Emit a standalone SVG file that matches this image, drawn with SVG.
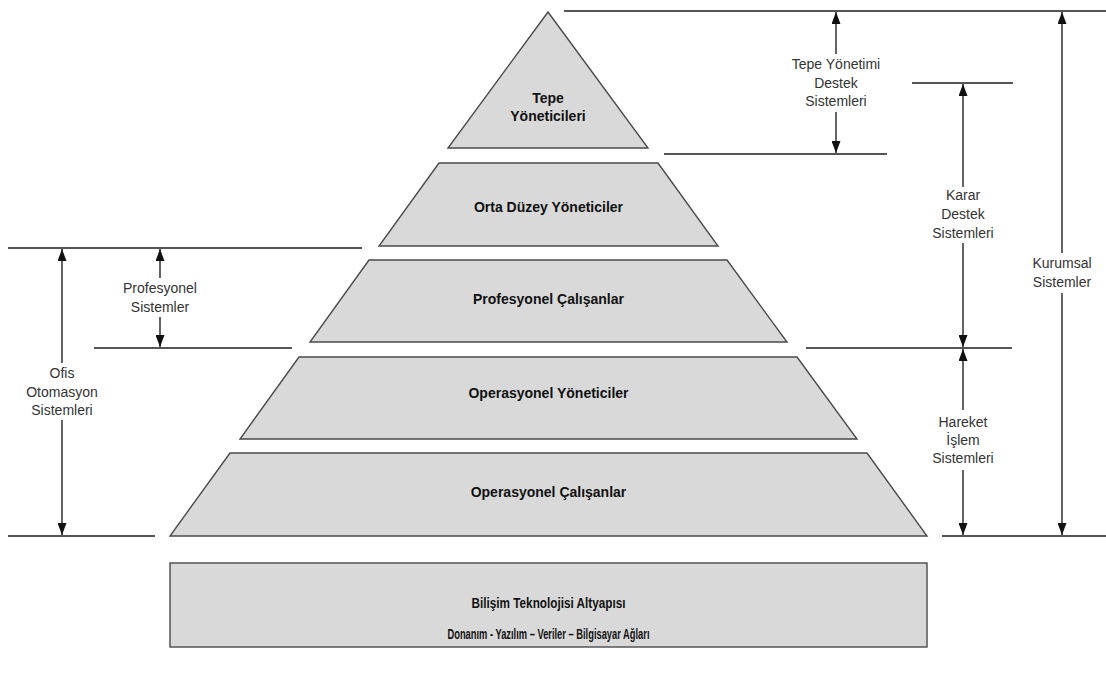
<svg xmlns="http://www.w3.org/2000/svg" width="1106" height="675" viewBox="0 0 1106 675">
<style>
.tier{fill:#d9d9d9;stroke:#4a4a4a;stroke-width:1.4;stroke-linejoin:miter}
.lbl{font-family:"Liberation Sans",Arial,sans-serif;font-weight:bold;font-size:14px;fill:#111;text-anchor:middle}
.side{font-family:"Liberation Sans",Arial,sans-serif;font-size:14px;fill:#333;text-anchor:middle}
.hline{stroke:#555;stroke-width:2;fill:none}
.arr{stroke:#111;stroke-width:1.3;fill:none;marker-end:url(#ah)}
</style>
<defs>
<marker id="ah" viewBox="0 0 12 9" refX="12" refY="4.5" markerWidth="13" markerHeight="9" markerUnits="userSpaceOnUse" orient="auto">
<path d="M0,0 L12,4.5 L0,9 z" fill="#111"/>
</marker>
</defs>
<rect width="1106" height="675" fill="#fff"/>
<g id="tepe">
<polygon class="tier" points="548,12 448,148 648,148"/>
<text class="lbl" x="548" y="103">Tepe</text>
<text class="lbl" x="548" y="121">Yöneticileri</text>
</g>
<g id="orta">
<polygon class="tier" points="439,163 658,163 718,246 379,246"/>
<text class="lbl" x="548.5" y="212">Orta Düzey Yöneticiler</text>
</g>
<g id="profesyonel">
<polygon class="tier" points="369,260 727,260 787,342 310,342"/>
<text class="lbl" x="548.5" y="304">Profesyonel Çalışanlar</text>
</g>
<g id="opyon">
<polygon class="tier" points="299,357 797,357 857,439 240,439"/>
<text class="lbl" x="548.5" y="398">Operasyonel Yöneticiler</text>
</g>
<g id="opcal">
<polygon class="tier" points="230,453 867,453 927,536 170,536"/>
<text class="lbl" x="548.5" y="497">Operasyonel Çalışanlar</text>
</g>
<g id="altyapi">
<rect class="tier" x="170" y="563" width="757" height="84"/>
<text class="lbl" x="548.5" y="608" font-size="13.5" textLength="154" lengthAdjust="spacingAndGlyphs">Bilişim Teknolojisi Altyapısı</text>
<text class="lbl" x="548.5" y="639" font-size="13" textLength="202" lengthAdjust="spacingAndGlyphs">Donanım - Yazılım – Veriler – Bilgisayar Ağları</text>
</g>
<g id="connectors">
<line class="hline" x1="564" y1="11" x2="1106" y2="11"/>
<line class="hline" x1="912" y1="83" x2="1013" y2="83"/>
<line class="hline" x1="664" y1="154" x2="887" y2="154"/>
<line class="hline" x1="8" y1="248" x2="362" y2="248"/>
<line class="hline" x1="94" y1="348" x2="292" y2="348"/>
<line class="hline" x1="806" y1="348" x2="1012" y2="348"/>
<line class="hline" x1="8" y1="536" x2="155" y2="536"/>
<line class="hline" x1="942" y1="536" x2="1106" y2="536"/>
<line class="arr" x1="836" y1="54" x2="836" y2="12"/>
<line class="arr" x1="836" y1="112" x2="836" y2="153"/>
<line class="arr" x1="963" y1="187" x2="963" y2="84"/>
<line class="arr" x1="963" y1="243" x2="963" y2="347"/>
<line class="arr" x1="963" y1="410" x2="963" y2="349"/>
<line class="arr" x1="963" y1="470" x2="963" y2="535"/>
<line class="arr" x1="1062" y1="253" x2="1062" y2="12"/>
<line class="arr" x1="1062" y1="293" x2="1062" y2="535"/>
<line class="arr" x1="62" y1="363" x2="62" y2="249"/>
<line class="arr" x1="62" y1="420" x2="62" y2="535"/>
<line class="arr" x1="160" y1="278" x2="160" y2="249"/>
<line class="arr" x1="160" y1="317" x2="160" y2="347"/>
</g>
<g id="labels">
<text class="side" x="836" y="69">Tepe Yönetimi</text>
<text class="side" x="836" y="88">Destek</text>
<text class="side" x="836" y="106">Sistemleri</text>
<text class="side" x="963" y="200">Karar</text>
<text class="side" x="963" y="219">Destek</text>
<text class="side" x="963" y="238">Sistemleri</text>
<text class="side" x="1062" y="268">Kurumsal</text>
<text class="side" x="1062" y="287">Sistemler</text>
<text class="side" x="963" y="427">Hareket</text>
<text class="side" x="963" y="445">İşlem</text>
<text class="side" x="963" y="463">Sistemleri</text>
<text class="side" x="62" y="378">Ofis</text>
<text class="side" x="62" y="397">Otomasyon</text>
<text class="side" x="62" y="415">Sistemleri</text>
<text class="side" x="160" y="293">Profesyonel</text>
<text class="side" x="160" y="312">Sistemler</text>
</g>
</svg>
